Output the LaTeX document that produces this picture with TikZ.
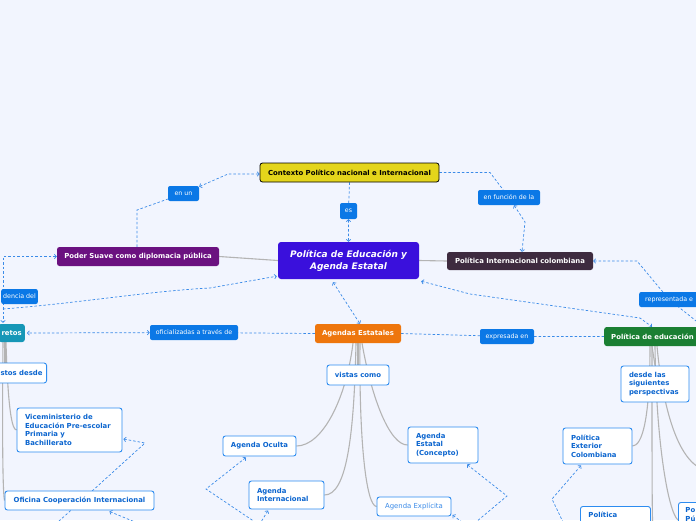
\documentclass[tikz,border=0pt]{standalone}
\usepackage{fontspec}
\setmainfont{DejaVu Sans}
\usetikzlibrary{arrows.meta}
\definecolor{bgc}{HTML}{F2F5FE}
\definecolor{centralc}{HTML}{3A10DC}
\definecolor{yellowc}{HTML}{E4D51B}
\definecolor{purplec}{HTML}{6B1180}
\definecolor{darkc}{HTML}{3E2B3F}
\definecolor{greenc}{HTML}{1B7F33}
\definecolor{orangec}{HTML}{EE760D}
\definecolor{tealc}{HTML}{1697B7}
\definecolor{labc}{HTML}{0B78E6}
\definecolor{sublinec}{HTML}{2D8CF0}
\definecolor{subtextc}{HTML}{0B65CF}
\definecolor{relc}{HTML}{3B8BE8}
\definecolor{treec}{HTML}{B4B4B4}
\pgfdeclarelayer{backlayer}
\pgfsetlayers{backlayer,main}
\tikzset{
  mmbase/.style={rounded corners=2.5pt, inner xsep=3pt, inner ysep=1pt,
    font=\fontsize{6.9}{8.7}\selectfont\bfseries, text=white},
  mmtopic/.style={mmbase, fill=#1},
  mmsub/.style={mmbase, fill=white, draw=sublinec, line width=0.9pt, text=subtextc},
  mmlab/.style={rounded corners=2pt, fill=labc, text=white,
    font=\fontsize{6.3}{7.5}\selectfont, inner sep=1pt},
  mmrel/.style={draw=relc, line width=0.7pt, dash pattern=on 2.5pt off 2pt},
  mmtip/.tip={Straight Barb[length=2pt,width=4.5pt]},
  relboth/.style={mmrel, mmtip-mmtip},
  relstart/.style={mmrel, mmtip-},
  relend/.style={mmrel, -mmtip},
  treeline/.style={draw=treec, line width=1.1pt},
}
\begin{document}
\begin{tikzpicture}[x=1pt,y=-1pt]
\useasboundingbox (0,0) rectangle (696,520);
\begin{pgfonlayer}{backlayer}
\fill[bgc] (0,0) rectangle (696,520);
\end{pgfonlayer}

% ---------- main nodes ----------
\node[rounded corners=3pt, fill=centralc, text=white, minimum width=141pt, minimum height=37pt,
  inner sep=1pt, align=center, font=\fontsize{9}{12}\selectfont\bfseries\itshape]
  (central) at (348.5,260.5) {Política de Educación y\\Agenda Estatal};
\node[mmtopic=yellowc, draw=black, line width=0.8pt, text=black, minimum width=179pt, minimum height=19pt]
  (contexto) at (349.5,172.5) {Contexto Político nacional e Internacional};
\node[mmtopic=purplec, minimum width=162pt, minimum height=19pt] (poder) at (138,256.5) {Poder Suave como diplomacia pública};
\node[mmtopic=darkc, minimum width=146pt, minimum height=18pt] (polint) at (520,261) {Política Internacional colombiana};
\node[mmtopic=greenc, anchor=west, text width=96pt, inner xsep=7pt, align=left, minimum height=19pt]
  (poled) at (604,336.5) {Política de educación};
\node[mmtopic=orangec, minimum width=86pt, minimum height=19pt] (agendas) at (358,333.5) {Agendas Estatales};
\node[mmtopic=tealc, anchor=east, inner xsep=3pt, minimum height=18pt] (retos) at (25,333) {retos};

% ---------- labels ----------
\node[mmlab, minimum width=17pt, minimum height=16pt] (es) at (348.5,211) {es};
\node[mmlab, minimum width=31pt, minimum height=15pt] (enun) at (183.5,193.5) {en un};
\node[mmlab, minimum width=62pt, minimum height=15pt] (enfuncion) at (509,197.5) {en función de la};
\node[mmlab, anchor=west, inner xsep=6pt, minimum height=15pt] (repres) at (639,299.5) {representada e};
\node[mmlab, minimum width=54pt, minimum height=15pt] (expresada) at (507,336.5) {expresada en};
\node[mmlab, minimum width=88pt, minimum height=15pt] (oficializadas) at (194,332.5) {oficializadas a través de};
\node[mmlab, anchor=east, inner xsep=2pt, minimum height=15pt] (dencia) at (38,296.5) {dencia del};

% ---------- sub nodes ----------
\node[mmsub, anchor=east, inner xsep=4pt, minimum height=20pt] (stos) at (47,373) {stos desde};
\node[mmsub, text width=89pt, inner xsep=8pt, align=left, minimum height=44pt] (vice) at (69.5,430)
  {Viceministerio de\\Educación Pre-escolar\\Primaria y\\Bachillerato};
\node[mmsub, minimum width=149pt, minimum height=19pt] (oficina) at (79.5,500.5) {Oficina Cooperación Internacional};
\node[mmsub, minimum width=62pt, minimum height=20pt] (vistas) at (358,375) {vistas como};
\node[mmsub, minimum width=73pt, minimum height=20pt] (oculta) at (259.5,446) {Agenda Oculta};
\node[mmsub, text width=59pt, inner xsep=8pt, align=left, minimum height=28pt] (agint) at (286.5,495)
  {Agenda\\Internacional};
\node[mmsub, text width=54pt, inner xsep=8pt, align=left, minimum height=36pt] (agest) at (443,445)
  {Agenda\\Estatal\\(Concepto)};
\node[mmsub, font=\fontsize{6.9}{8.7}\selectfont, text=relc, minimum width=74pt, minimum height=19pt]
  (agexp) at (414,506.5) {Agenda Explícita};
\node[mmsub, text width=52pt, inner xsep=8pt, align=left, minimum height=36pt] (desde) at (655,384)
  {desde las\\siguientes\\perspectivas};
\node[mmsub, text width=53pt, inner xsep=8pt, align=left, minimum height=36pt] (polext) at (597.5,446)
  {Política\\Exterior\\Colombiana};
\node[mmsub, anchor=north west, text width=54pt, inner xsep=8pt, inner ysep=6pt, align=left] (polbot) at (580,506)
  {Política\\ };
\node[mmsub, anchor=north west, text width=30pt, inner xsep=7pt, inner ysep=5pt, align=left] (popu) at (678,502)
  {Po\\Pú};

\begin{pgfonlayer}{backlayer}
% ---------- tree lines ----------
\draw[treeline] (central.west) -- (poder.east);
\draw[treeline] (central.east) -- (polint.west);
\draw[treeline] (agendas.south) -- (vistas.north);
\draw[treeline] ([xshift=-5pt]agendas.south) .. controls (346,400) and (322,446) .. (oculta.east);
\draw[treeline] ([xshift=-2pt]agendas.south) .. controls (354,440) and (346,495) .. (agint.east);
\draw[treeline] ([xshift=4pt]agendas.south) .. controls (372,400) and (390,445) .. (agest.west);
\draw[treeline] ([xshift=2pt]agendas.south) .. controls (359,440) and (366,506) .. (agexp.west);
\draw[treeline] ([shift={(48,0)}]poled.south west) -- (desde.north);
\draw[treeline] ([shift={(46,0)}]poled.south west) .. controls (650,420) and (642,446) .. (polext.east);
\draw[treeline] ([shift={(48,0)}]poled.south west) .. controls (652,470) and (652,515) .. ([shift={(2,16)}]polbot.east);
\draw[treeline] ([shift={(51,0)}]poled.south west) .. controls (656,440) and (668,512) .. ([yshift=-18pt]popu.north west);
\draw[treeline] ([shift={(53,0)}]poled.south west) .. controls (662,400) and (675,455) .. (700,468);
\draw[treeline] ([shift={(-20,0)}]retos.south east) -- ([shift={(-42,0)}]stos.north east);
\draw[treeline] ([shift={(-19,0)}]retos.south east) .. controls (8,410) and (12,430) .. (vice.west);
\draw[treeline] ([shift={(-22,0)}]retos.south east) .. controls (2,450) and (3,495) .. (oficina.west);

% ---------- relationships ----------
\draw[relboth] (contexto.south) -- (es) -- (central.north);
\draw[relboth] ([xshift=-1pt]poder.north) -- (137,210) -- (enun) -- (228,174) -- ([shift={(0,1.5)}]contexto.west);
\draw[relboth] (contexto.east) -- (490,172.5) -- (enfuncion) -- (525,222) -- ([xshift=2pt]polint.north);
\draw[relstart] (polint.east) -- (637,261) -- (repres.center) -- (705,328);
\draw[relboth] ([shift={(2,2)}]central.south east) -- (470,294) -- (640,318) -- ([shift={(48,0)}]poled.north west);
\draw[relboth] ([shift={(-15.5,3)}]central.south) -- ([xshift=2pt]agendas.north);
\draw[relboth] (agendas.west) -- (oficializadas) -- ([xshift=2pt]retos.east);
\draw[mmrel] (agendas.east) -- (expresada) -- (poled.west);
\draw[relboth] (poder.west) -- (3,256.5) -- (dencia.center -| 3,0) -- ([shift={(-22,-1)}]retos.north east);
\coordinate (dstart) at (3,309);
\draw[relend] (dstart) .. controls (80,303) and (150,291) .. (210,288) -- ([shift={(-1,-3)}]central.south west);
\draw[relstart] ([shift={(1,9)}]vice.east) -- (145,443) -- (58,522);
\draw[relstart] ([shift={(-45,1)}]oficina.south east) -- (135,522);
\draw[relstart] ([shift={(-13.5,1)}]oculta.south) -- (206,489) -- (255,522);
\draw[relstart] ([shift={(-18.5,1)}]agint.south) -- (261,522);
\draw[relstart] ([shift={(24,1)}]agest.south) -- (507,496) -- (476,522);
\draw[relstart] ([shift={(1,8.5)}]agexp.east) -- (462,522);
\draw[relstart] ([shift={(-16.5,1)}]polext.south) -- (552,499) -- (563,522);
\end{pgfonlayer}
\end{tikzpicture}
\end{document}
